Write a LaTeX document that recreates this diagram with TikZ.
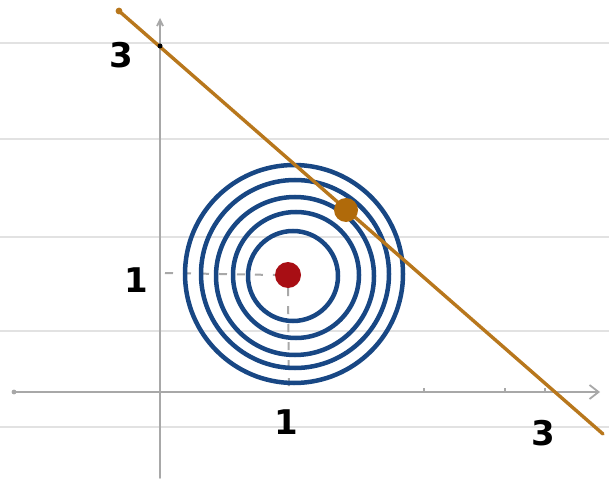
\documentclass[tikz,border=0pt]{standalone}
\usepackage{fontspec}
\setmainfont{DejaVu Sans}
\usetikzlibrary{arrows.meta}
\definecolor{rule}{HTML}{E2E2E2}
\definecolor{axisgray}{HTML}{A8A8A8}
\definecolor{ringblue}{HTML}{184784}
\definecolor{linebrown}{HTML}{B8771C}
\definecolor{dotbrown}{HTML}{B06A0A}
\definecolor{dotred}{HTML}{A80E14}
\tikzset{
  ruled/.style={draw=rule, line width=2.2pt},
  axisline/.style={draw=axisgray, line width=1.8pt, line cap=round},
  guide/.style={draw=axisgray, line width=2pt, dash pattern=on 8pt off 10pt},
  ring/.style={draw=ringblue, line width=4.5pt},
  tangent/.style={draw=linebrown, line width=3.4pt, line cap=round},
  dotnode/.style={circle, inner sep=0pt, minimum size=#1},
  digit/.style={font=\bfseries\fontsize{34}{34}\selectfont, text=black, inner sep=0pt},
  tickmark/.style={draw=axisgray, line width=1.8pt}
}
\begin{document}
\begin{tikzpicture}[x=1pt,y=-1pt]
\useasboundingbox[fill=white] (0,0) rectangle (609,486);
% ruled paper lines
\foreach \yy in {43,139,237,331,427}
  \draw[ruled] (0,\yy) -- (609,\yy);
% axes
\coordinate (xl) at (14,392);
\coordinate (xr) at (600,392);
\coordinate (yb) at (160,478);
\coordinate (yt) at (160,18);
\draw[axisline,-{Straight Barb[length=9pt,width=14pt]}] (xl) -- (xr);
\draw[axisline,-{Straight Barb[length=6pt,width=6pt]}] (yb) -- (yt);
\fill[axisgray] (xl) circle (2.4pt);
\foreach \xx in {424,505,545}
  \draw[tickmark] (\xx,388) -- (\xx,393);
% guides
\coordinate (gy) at (165,273);
\coordinate (gx) at (289,392);
\node[dotnode=26pt, fill=dotred] (c) at (288,275) {};
\draw[guide] (gy) -- (c.west);
\draw[guide] (c.south) -- (gx);
% rings
\foreach \r/\dx/\dy in {45/5/1, 63/8/0, 79/7/1, 94/7/-1, 109/6/-1}
  \draw[ring] (288+\dx,275+\dy) circle (\r);
% tangent line
\coordinate (la) at (119,11);
\coordinate (lb) at (603,434);
\draw[tangent] (la) -- (lb);
\fill[linebrown] (la) circle (3.4pt);
\fill[black] (160,46) circle (2.5pt);
\node[dotnode=24pt, fill=dotbrown] (p) at (346,210) {};
% labels
\node[digit] (l3y) at (121,55) {3};
\node[digit] (l1y) at (136,280) {1};
\node[digit] (l1x) at (286,422) {1};
\node[digit] (l3x) at (543,433) {3};
\end{tikzpicture}
\end{document}
